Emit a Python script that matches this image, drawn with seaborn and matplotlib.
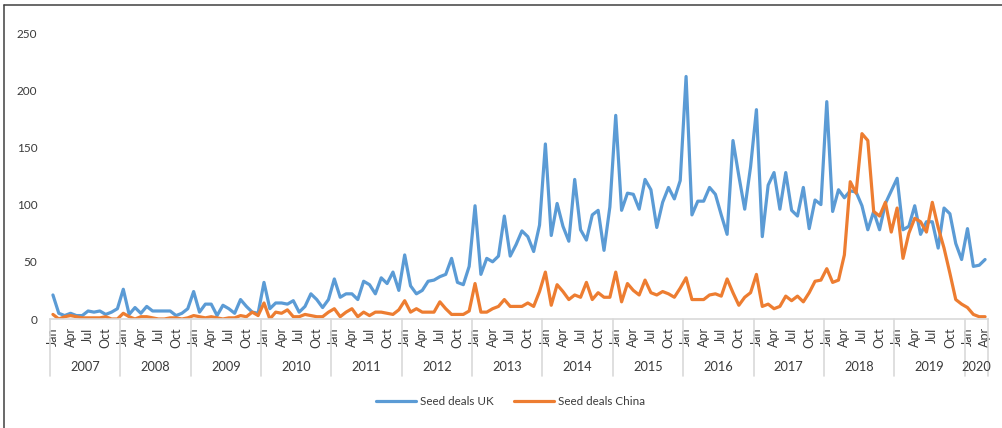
import numpy as np
import pandas as pd
import matplotlib
matplotlib.use("Agg")
import matplotlib.pyplot as plt
import matplotlib.transforms as mtransforms
from matplotlib.lines import Line2D
import seaborn as sns

# monthly seed deals, Jan 2007 .. Apr 2020
years = list(range(2007, 2021))
month_names = ["Jan", "Feb", "Mar", "Apr", "May", "Jun",
               "Jul", "Aug", "Sep", "Oct", "Nov", "Dec"]

uk = [
    21, 5, 3, 5, 3, 3, 7, 6, 7, 4, 6, 9,            # 2007
    26, 4, 10, 5, 11, 7, 7, 7, 7, 3, 5, 9,          # 2008
    24, 6, 13, 13, 3, 12, 9, 5, 17, 11, 6, 5,       # 2009
    32, 9, 14, 14, 13, 16, 6, 11, 22, 17, 10, 17,   # 2010
    35, 19, 22, 22, 17, 33, 30, 22, 36, 31, 41, 25,  # 2011
    56, 29, 22, 25, 33, 34, 37, 39, 53, 32, 30, 46,  # 2012
    99, 39, 53, 50, 55, 90, 55, 65, 77, 72, 59, 82,  # 2013
    153, 73, 101, 81, 68, 122, 78, 69, 91, 95, 60, 98,     # 2014
    178, 95, 110, 109, 96, 122, 113, 80, 102, 115, 105, 121,  # 2015
    212, 91, 103, 103, 115, 109, 91, 74, 156, 125, 96, 133,   # 2016
    183, 72, 117, 128, 96, 128, 95, 90, 115, 79, 104, 100,    # 2017
    190, 94, 113, 106, 112, 111, 99, 78, 94, 78, 101, 112,    # 2018
    123, 78, 81, 99, 74, 85, 85, 62, 97, 92, 66, 52,          # 2019
    79, 46, 47, 52,                                           # 2020
]

china = [
    4, 0, 2, 3, 2, 1, 1, 1, 1, 2, 0, 0,
    5, 2, 0, 2, 2, 1, 0, 0, 1, 1, 0, 1,
    3, 2, 1, 2, 1, 0, 1, 1, 3, 2, 6, 3,
    14, 0, 6, 5, 8, 2, 2, 4, 3, 2, 2, 6,
    9, 2, 6, 9, 2, 6, 3, 6, 6, 5, 4, 8,
    16, 6, 9, 6, 6, 6, 15, 9, 4, 4, 4, 7,
    31, 6, 6, 9, 11, 17, 11, 11, 11, 14, 11, 24,
    41, 12, 30, 24, 17, 21, 19, 32, 17, 23, 19, 19,
    41, 15, 31, 25, 21, 34, 23, 21, 24, 22, 19, 27,
    36, 17, 17, 17, 21, 22, 20, 35, 23, 12, 19, 23,
    39, 11, 13, 9, 11, 20, 16, 20, 15, 23, 33, 34,
    44, 32, 34, 56, 120, 110, 162, 156, 94, 90, 102, 76,
    97, 53, 75, 88, 85, 76, 102, 80, 62, 40, 17, 13,
    10, 4, 2, 2,
]

n = len(uk)
months = [month_names[i % 12] for i in range(n)]
year_of = [years[i // 12] for i in range(n)]

df = pd.DataFrame({
    "idx": list(range(n)) * 2,
    "deals": uk + china,
    "series": ["Seed deals UK"] * n + ["Seed deals China"] * n,
})

sns.set_theme(style="white")
plt.rcParams["font.family"] = ["Lato", "DejaVu Sans"]

fig = plt.figure(figsize=(10.03, 4.28), dpi=100)
ax = fig.add_axes([50 / 1003, 1 - 319 / 428, 938 / 1003, 286 / 428])

palette = {"Seed deals UK": "#5B9BD5", "Seed deals China": "#ED7D31"}
sns.lineplot(data=df, x="idx", y="deals", hue="series", palette=palette,
             linewidth=2.3, ax=ax, legend=True)

ax.set_xlim(-0.5, n - 0.5)
ax.set_ylim(0, 250)
ax.set_yticks(range(0, 251, 50))
ax.tick_params(axis="y", length=0, pad=9, labelsize=8.5, labelcolor="#3a3a3a")
ax.set_xlabel("")
ax.set_ylabel("")

# month labels (every quarter)
qt = [i for i in range(n) if i % 3 == 0]
ax.set_xticks(qt)
ax.set_xticklabels([months[i] for i in qt], rotation=90, va="top", ha="center")
ax.tick_params(axis="x", length=0, pad=6, labelsize=9, labelcolor="#3a3a3a")

for s in ["left", "right", "top"]:
    ax.spines[s].set_visible(False)
ax.spines["bottom"].set_color("#d9d9d9")
ax.spines["bottom"].set_linewidth(1.2)

# year separators and labels
trans = mtransforms.blended_transform_factory(ax.transData, ax.transAxes)
bounds = [y * 12 - 0.5 for y in range(len(years))] + [n - 0.5]
for b in bounds:
    ax.plot([b, b], [0, -0.2], color="#d9d9d9", lw=1.2, transform=trans,
            clip_on=False)
for k, yr in enumerate(years):
    idxs = [i for i in range(n) if year_of[i] == yr]
    ax.text((idxs[0] + idxs[-1]) / 2, -0.168, str(yr), transform=trans,
            ha="center", va="center", fontsize=9.2, color="#3a3a3a")

leg = ax.legend(loc="center", bbox_to_anchor=(0.509, 0.061),
                bbox_transform=fig.transFigure, ncol=2, frameon=False,
                fontsize=8.4, handlelength=3.4, handletextpad=0.3,
                columnspacing=1.8)
for t in leg.get_texts():
    t.set_color("#3a3a3a")

# outer frame (left and top edges only visible)
fig.add_artist(Line2D([4 / 1003, 4 / 1003], [0, 1 - 5 / 428],
                      transform=fig.transFigure, color="#404040", lw=1.1))
fig.add_artist(Line2D([4 / 1003, 1], [1 - 5 / 428, 1 - 5 / 428],
                      transform=fig.transFigure, color="#404040", lw=1.1))

fig.savefig("out.png", dpi=100)
